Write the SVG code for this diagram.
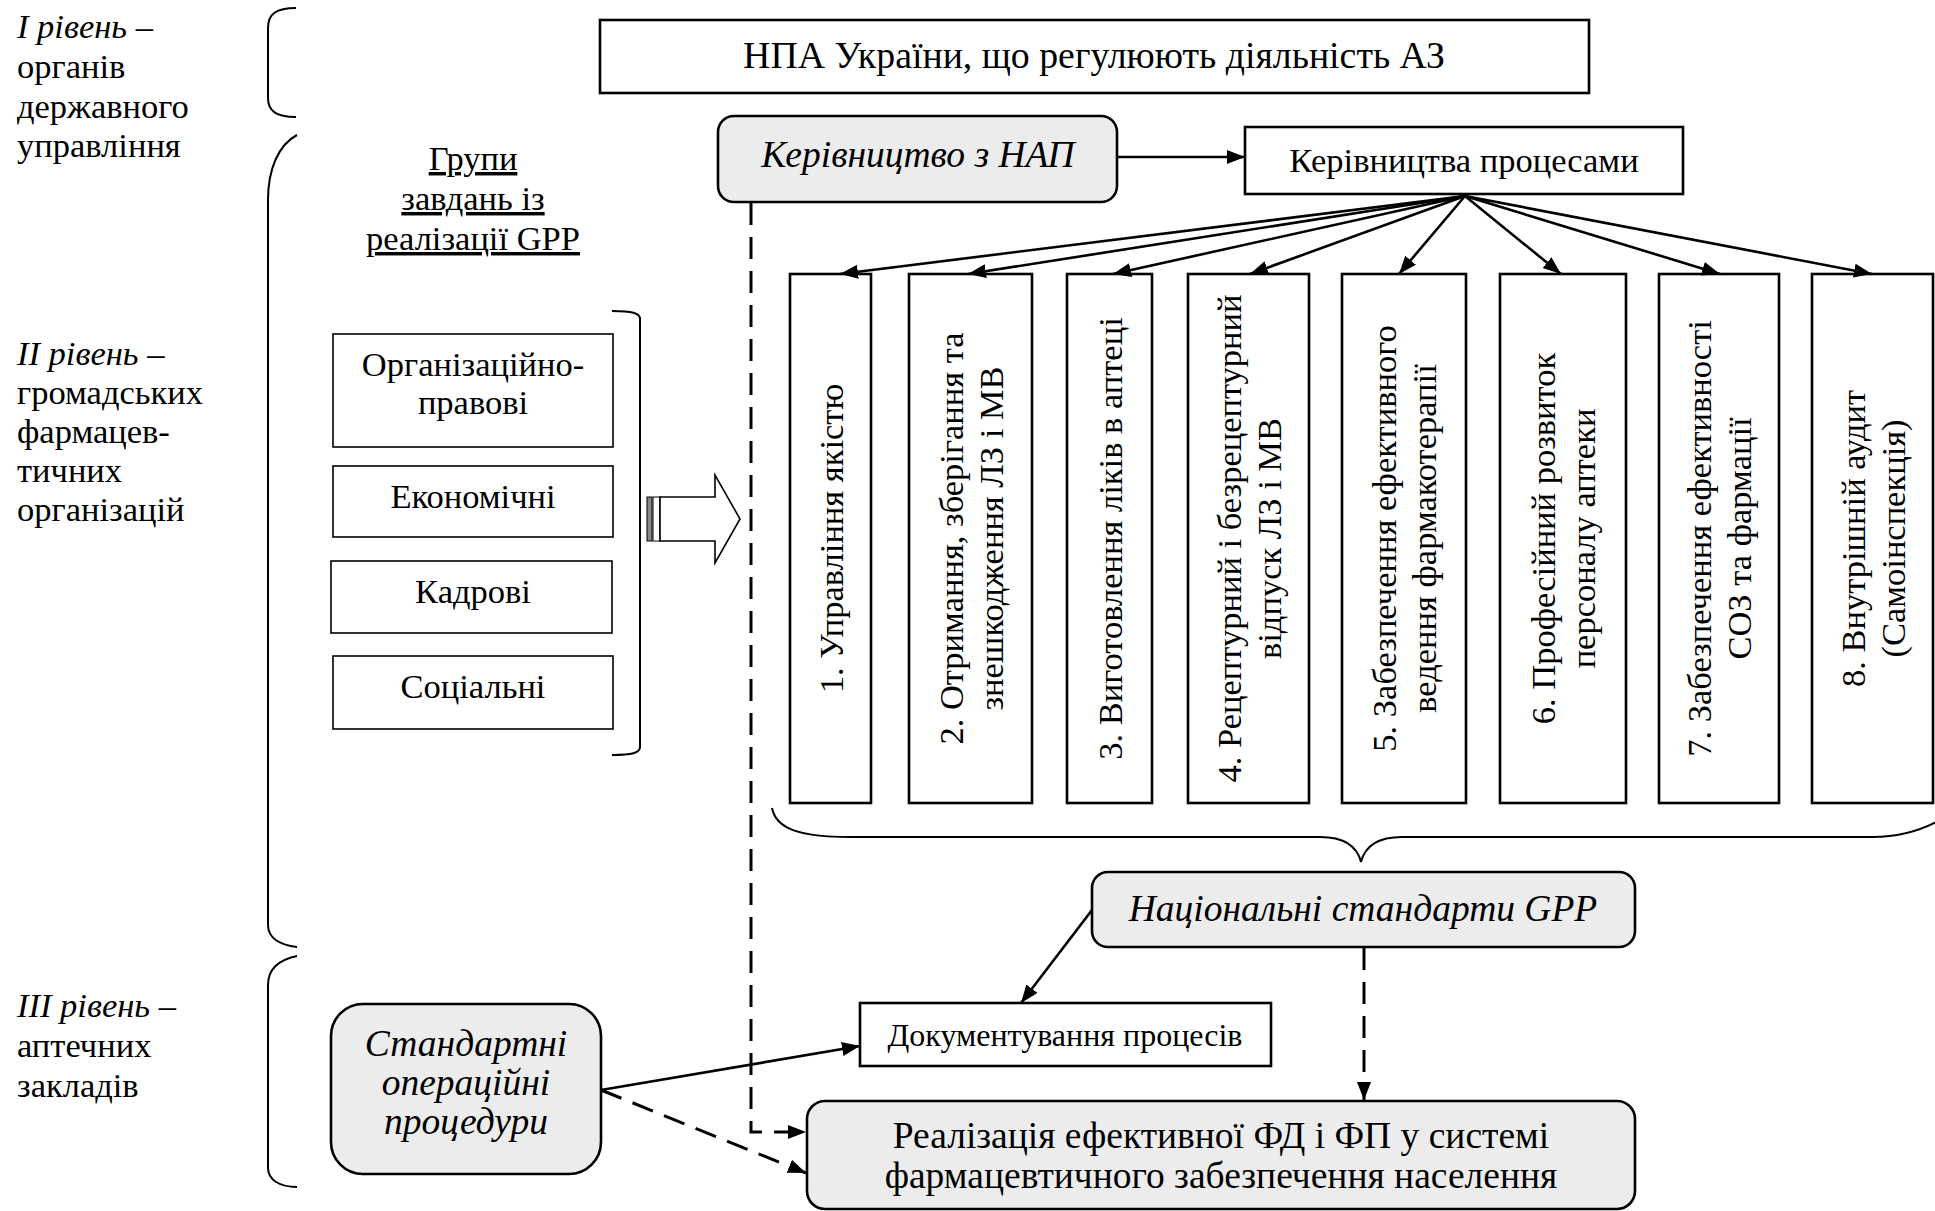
<svg xmlns="http://www.w3.org/2000/svg" width="1935" height="1211" viewBox="0 0 1935 1211">
<style>
text{font-family:"Liberation Serif","Times New Roman",serif;font-size:34.5px;fill:#000}
.it{font-style:italic;font-size:37.5px}
.c{text-anchor:middle}
.title{font-size:37.8px}
.big{font-size:37.5px}
.doc{font-size:32px}
.box{fill:#fff;stroke:#000;stroke-width:2.6}
.gbox{fill:#fff;stroke:#000;stroke-width:1.6}
.rbox{fill:#ececec;stroke:#000;stroke-width:2.6}
.br{fill:none;stroke:#000;stroke-width:2}
.ln{fill:none;stroke:#000;stroke-width:2.6}
.dash{fill:none;stroke:#000;stroke-width:3;stroke-dasharray:22 12}
.u{text-decoration:underline}
</style>
<defs>
<marker id="ah" markerUnits="userSpaceOnUse" markerWidth="20" markerHeight="16" refX="18" refY="7" orient="auto">
<path d="M0,0 L18,7 L0,14 Z" fill="#000"/>
</marker>
</defs>

<g id="levels">
<text x="17" y="38"><tspan font-style="italic">I рівень</tspan> –</text>
<text x="17" y="78">органів</text>
<text x="17" y="118">державного</text>
<text x="17" y="157">управління</text>
<text x="17" y="365"><tspan font-style="italic">II рівень</tspan> –</text>
<text x="17" y="404">громадських</text>
<text x="17" y="443">фармацев-</text>
<text x="17" y="482">тичних</text>
<text x="17" y="521">організацій</text>
<text x="17" y="1017"><tspan font-style="italic">III рівень</tspan> –</text>
<text x="17" y="1057">аптечних</text>
<text x="17" y="1097">закладів</text>
<path class="br" d="M296,8 C276,8 268,14 268,28 L268,98 C268,111 276,117 296,117"/>
<path class="br" d="M297,135 C278,145 268,170 268,200 L268,925 C268,938 280,945 297,947"/>
<path class="br" d="M297,956 C278,960 268,970 268,985 L268,1168 C268,1180 280,1187 297,1187"/>
</g>

<g id="npa">
<rect class="box" x="600" y="20" width="989" height="73" stroke-width="3"/>
<text class="c title" x="1094" y="68">НПА України, що регулюють діяльність АЗ</text>
</g>

<g id="groups-title">
<text class="c u" x="473" y="170">Групи</text>
<text class="c u" x="473" y="210">завдань із</text>
<text class="c u" x="473" y="250">реалізації GPP</text>
</g>

<g id="group-org"><rect class="gbox" x="333" y="334" width="280" height="113"/>
<text class="c" x="473" y="376">Організаційно-</text><text class="c" x="473" y="414">правові</text></g>
<g id="group-econ"><rect class="gbox" x="333" y="466" width="280" height="71"/>
<text class="c" x="473" y="508">Економічні</text></g>
<g id="group-kadr"><rect class="gbox" x="331" y="561" width="281" height="72"/>
<text class="c" x="473" y="603">Кадрові</text></g>
<g id="group-soc"><rect class="gbox" x="333" y="656" width="280" height="73"/>
<text class="c" x="473" y="698">Соціальні</text></g>
<g id="group-bracket">
<path class="br" d="M612,311 C632,311 640,313 640,319 L640,747 C640,753 632,755 612,755"/>
<rect x="647" y="497" width="5" height="44" fill="#888" stroke="#000" stroke-width="1"/>
<rect x="653" y="497" width="7" height="44" fill="#fff" stroke="#000" stroke-width="1"/>
<path d="M660,497 L715,497 L715,475 L740,519 L715,563 L715,541 L660,541 Z" fill="#fff" stroke="#000" stroke-width="1.6"/>
</g>

<g id="nap"><rect class="rbox" x="718" y="116" width="399" height="86" rx="16"/>
<text class="c it" x="918" y="167">Керівництво з НАП</text></g>
<g id="procesy"><rect class="box" x="1245" y="127" width="438" height="67"/>
<text class="c" x="1464" y="172">Керівництва процесами</text></g>

<g id="item1"><rect class="box" x="790" y="274" width="81" height="529"/>
<text class="c" transform="translate(830.5,538.5) rotate(-90)" y="12">1. Управління якістю</text></g>
<g id="item2"><rect class="box" x="909" y="274" width="123" height="529"/>
<text class="c" transform="translate(970.5,538.5) rotate(-90)"><tspan x="0" y="-8">2. Отримання, зберігання та</tspan><tspan x="0" y="32">знешкодження ЛЗ і МВ</tspan></text></g>
<g id="item3"><rect class="box" x="1067" y="274" width="85" height="529"/>
<text class="c" transform="translate(1109.5,538.5) rotate(-90)" y="12">3. Виготовлення ліків в аптеці</text></g>
<g id="item4"><rect class="box" x="1188" y="274" width="121" height="529"/>
<text class="c" transform="translate(1248.5,538.5) rotate(-90)"><tspan x="0" y="-8">4. Рецептурний і безрецептурний</tspan><tspan x="0" y="32">відпуск ЛЗ і МВ</tspan></text></g>
<g id="item5"><rect class="box" x="1342" y="274" width="124" height="529"/>
<text class="c" transform="translate(1404,538.5) rotate(-90)"><tspan x="0" y="-8">5. Забезпечення ефективного</tspan><tspan x="0" y="32">ведення фармакотерапії</tspan></text></g>
<g id="item6"><rect class="box" x="1500" y="274" width="126" height="529"/>
<text class="c" transform="translate(1563,538.5) rotate(-90)"><tspan x="0" y="-8">6. Професійний розвиток</tspan><tspan x="0" y="32">персоналу аптеки</tspan></text></g>
<g id="item7"><rect class="box" x="1659" y="274" width="120" height="529"/>
<text class="c" transform="translate(1719,538.5) rotate(-90)"><tspan x="0" y="-8">7. Забезпечення ефективності</tspan><tspan x="0" y="32">СОЗ та фармації</tspan></text></g>
<g id="item8"><rect class="box" x="1812" y="274" width="121" height="529"/>
<text class="c" transform="translate(1872.5,538.5) rotate(-90)"><tspan x="0" y="-8">8. Внутрішній аудит</tspan><tspan x="0" y="32">(Самоінспекція)</tspan></text></g>

<g id="items-brace">
<path class="br" d="M772,808 C776,829 800,837 850,837 L1320,837 C1345,837 1357,846 1361,862 C1365,846 1377,837 1402,837 L1873,837 C1900,837 1920,831 1940,820"/>
</g>

<g id="natsstd"><rect class="rbox" x="1092" y="872" width="543" height="75" rx="16"/>
<text class="c it" x="1363" y="921">Національні стандарти GPP</text></g>
<g id="dokument"><rect class="box" x="860" y="1003" width="411" height="63"/>
<text class="c doc" x="1065" y="1046">Документування процесів</text></g>
<g id="sop"><rect class="rbox" x="331" y="1004" width="270" height="170" rx="32"/>
<text class="c it" x="466" y="1056">Стандартні</text>
<text class="c it" x="466" y="1095">операційні</text>
<text class="c it" x="466" y="1134">процедури</text></g>
<g id="realiz"><rect class="rbox" x="807" y="1101" width="828" height="108" rx="18"/>
<text class="c big" x="1221" y="1148">Реалізація ефективної ФД і ФП у системі</text>
<text class="c big" x="1221" y="1188">фармацевтичного забезпечення населення</text></g>

<g id="connectors">
<line class="ln" x1="1117" y1="157" x2="1245" y2="157" marker-end="url(#ah)"/>
<line class="ln" x1="1465" y1="196" x2="840" y2="274" marker-end="url(#ah)"/>
<line class="ln" x1="1465" y1="196" x2="968" y2="274" marker-end="url(#ah)"/>
<line class="ln" x1="1465" y1="196" x2="1113" y2="274" marker-end="url(#ah)"/>
<line class="ln" x1="1465" y1="196" x2="1250" y2="274" marker-end="url(#ah)"/>
<line class="ln" x1="1465" y1="196" x2="1399" y2="274" marker-end="url(#ah)"/>
<line class="ln" x1="1465" y1="196" x2="1561" y2="274" marker-end="url(#ah)"/>
<line class="ln" x1="1465" y1="196" x2="1720" y2="274" marker-end="url(#ah)"/>
<line class="ln" x1="1465" y1="196" x2="1872" y2="274" marker-end="url(#ah)"/>
<path class="dash" d="M751,203 L751,1132 L806,1132" marker-end="url(#ah)"/>
<line class="ln" stroke-width="2" x1="1092" y1="910" x2="1021" y2="1003" marker-end="url(#ah)"/>
<line class="dash" stroke-width="2.6" x1="1364" y1="948" x2="1364" y2="1100" marker-end="url(#ah)"/>
<line class="ln" x1="601" y1="1090" x2="860" y2="1046" marker-end="url(#ah)"/>
<line class="dash" stroke-width="4" x1="601" y1="1090" x2="806" y2="1173" marker-end="url(#ah)"/>
</g>
</svg>
